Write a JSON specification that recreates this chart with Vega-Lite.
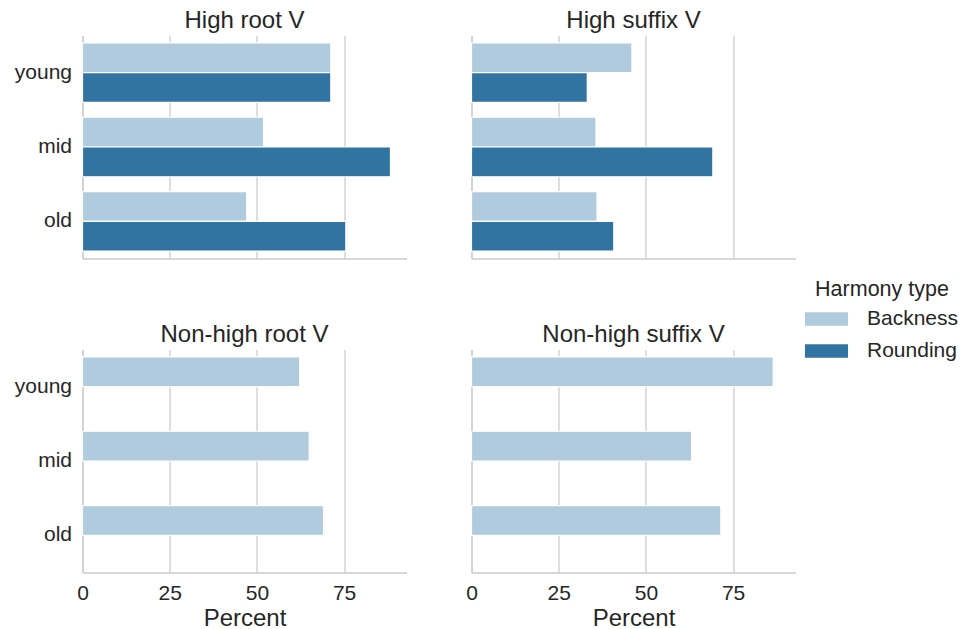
{
  "$schema": "https://vega.github.io/schema/vega-lite/v6.json",
  "background": "white",
  "padding": {"left": 13.5, "top": 8.5, "right": 5, "bottom": 2},
  "data": {
    "values": [
      {"panel": "High root V", "age": "young", "type": "Backness", "percent": 71.2},
      {"panel": "High root V", "age": "young", "type": "Rounding", "percent": 71.2},
      {"panel": "High root V", "age": "mid", "type": "Backness", "percent": 51.9},
      {"panel": "High root V", "age": "mid", "type": "Rounding", "percent": 88.3},
      {"panel": "High root V", "age": "old", "type": "Backness", "percent": 47.1},
      {"panel": "High root V", "age": "old", "type": "Rounding", "percent": 75.5},
      {"panel": "High suffix V", "age": "young", "type": "Backness", "percent": 46.0},
      {"panel": "High suffix V", "age": "young", "type": "Rounding", "percent": 33.2},
      {"panel": "High suffix V", "age": "mid", "type": "Backness", "percent": 35.7},
      {"panel": "High suffix V", "age": "mid", "type": "Rounding", "percent": 69.2},
      {"panel": "High suffix V", "age": "old", "type": "Backness", "percent": 36.0},
      {"panel": "High suffix V", "age": "old", "type": "Rounding", "percent": 40.8},
      {"panel": "Non-high root V", "age": "young", "type": "Backness", "percent": 62.3},
      {"panel": "Non-high root V", "age": "mid", "type": "Backness", "percent": 65.0},
      {"panel": "Non-high root V", "age": "old", "type": "Backness", "percent": 69.1},
      {"panel": "Non-high suffix V", "age": "young", "type": "Backness", "percent": 86.5},
      {"panel": "Non-high suffix V", "age": "mid", "type": "Backness", "percent": 63.1},
      {"panel": "Non-high suffix V", "age": "old", "type": "Backness", "percent": 71.5}
    ]
  },
  "columns": 2,
  "bounds": "flush",
  "spacing": {"row": 91, "column": 65},
  "concat": [
    {
      "title": {"text": "High root V"},
      "width": 324, "height": 223,
      "transform": [{"filter": "datum.panel === 'High root V'"}],
      "mark": {"type": "bar", "stroke": "white", "strokeWidth": 1.2},
      "encoding": {
        "x": {"field": "percent", "type": "quantitative", "scale": {"domain": [0, 92.9], "nice": false},
              "axis": {"labels": false, "title": null, "values": [0, 25, 50, 75]}},
        "y": {"field": "age", "type": "nominal", "sort": ["young", "mid", "old"],
              "scale": {"paddingInner": 0.2, "paddingOuter": 0.1}, "axis": {"title": null}},
        "yOffset": {"field": "type", "type": "nominal", "scale": {"domain": ["Backness", "Rounding"], "paddingInner": 0, "paddingOuter": 0}},
        "color": {"field": "type", "type": "nominal", "title": "Harmony type",
                  "scale": {"domain": ["Backness", "Rounding"], "range": ["#afcbdd", "#3274a1"]}}
      }
    },
    {
      "title": {"text": "High suffix V"},
      "width": 324, "height": 223,
      "transform": [{"filter": "datum.panel === 'High suffix V'"}],
      "mark": {"type": "bar", "stroke": "white", "strokeWidth": 1.2},
      "encoding": {
        "x": {"field": "percent", "type": "quantitative", "scale": {"domain": [0, 92.9], "nice": false},
              "axis": {"labels": false, "title": null, "values": [0, 25, 50, 75]}},
        "y": {"field": "age", "type": "nominal", "sort": ["young", "mid", "old"],
              "scale": {"paddingInner": 0.2, "paddingOuter": 0.1}, "axis": {"title": null, "labels": false}},
        "yOffset": {"field": "type", "type": "nominal", "scale": {"domain": ["Backness", "Rounding"], "paddingInner": 0, "paddingOuter": 0}},
        "color": {"field": "type", "type": "nominal", "title": "Harmony type",
                  "scale": {"domain": ["Backness", "Rounding"], "range": ["#afcbdd", "#3274a1"]}}
      }
    },
    {
      "title": {"text": "Non-high root V"},
      "width": 324, "height": 223,
      "transform": [{"filter": "datum.panel === 'Non-high root V'"}],
      "mark": {"type": "bar", "stroke": "white", "strokeWidth": 1.2},
      "encoding": {
        "x": {"field": "percent", "type": "quantitative", "scale": {"domain": [0, 92.9], "nice": false},
              "axis": {"title": "Percent", "values": [0, 25, 50, 75]}},
        "y": {"field": "age", "type": "nominal", "sort": ["young", "mid", "old"],
              "scale": {"paddingInner": 0.2, "paddingOuter": 0.1}, "axis": {"title": null}},
        "yOffset": {"field": "type", "type": "nominal", "scale": {"domain": ["Backness", "Rounding"], "paddingInner": 0, "paddingOuter": 0}},
        "color": {"field": "type", "type": "nominal", "title": "Harmony type",
                  "scale": {"domain": ["Backness", "Rounding"], "range": ["#afcbdd", "#3274a1"]}}
      }
    },
    {
      "title": {"text": "Non-high suffix V"},
      "width": 324, "height": 223,
      "transform": [{"filter": "datum.panel === 'Non-high suffix V'"}],
      "mark": {"type": "bar", "stroke": "white", "strokeWidth": 1.2},
      "encoding": {
        "x": {"field": "percent", "type": "quantitative", "scale": {"domain": [0, 92.9], "nice": false},
              "axis": {"title": "Percent", "values": [0, 25, 50, 75]}},
        "y": {"field": "age", "type": "nominal", "sort": ["young", "mid", "old"],
              "scale": {"paddingInner": 0.2, "paddingOuter": 0.1}, "axis": {"title": null, "labels": false}},
        "yOffset": {"field": "type", "type": "nominal", "scale": {"domain": ["Backness", "Rounding"], "paddingInner": 0, "paddingOuter": 0}},
        "color": {"field": "type", "type": "nominal", "title": "Harmony type",
                  "scale": {"domain": ["Backness", "Rounding"], "range": ["#afcbdd", "#3274a1"]}}
      }
    }
  ],
  "config": {
    "font": "Liberation Sans",
    "view": {"stroke": null},
    "title": {"fontSize": 24, "fontWeight": "normal", "color": "#262626", "font": "Liberation Sans", "frame": "group", "anchor": "middle", "baseline": "alphabetic", "offset": 3},
    "axis": {
      "domainColor": "#cccccc", "domainWidth": 1.3,
      "gridColor": "#cccccc", "gridWidth": 1.3,
      "ticks": false, "tickSize": 0,
      "labelColor": "#262626", "labelFontSize": 21, "labelFont": "Liberation Sans",
      "titleColor": "#262626", "titleFontSize": 24, "titleFontWeight": "normal", "titleFont": "Liberation Sans"
    },
    "axisX": {"grid": true, "labelPadding": 10, "titlePadding": 2.5, "labelFlush": false},
    "axisY": {"grid": false, "labelPadding": 11},
    "legend": {
      "orient": "none", "legendX": 722.5, "legendY": 243.5,
      "titleFontSize": 21.5, "titleFontWeight": "normal", "titleColor": "#262626", "titleFont": "Liberation Sans",
      "titleAnchor": "middle", "titlePadding": -3,
      "labelFontSize": 21, "labelColor": "#262626", "labelFont": "Liberation Sans", "labelOffset": 19,
      "symbolType": "M-1,-0.31H1V0.31H-1Z", "symbolSize": 1849, "symbolStrokeWidth": 0, "symbolOpacity": 1,
      "rowPadding": -14
    }
  }
}
